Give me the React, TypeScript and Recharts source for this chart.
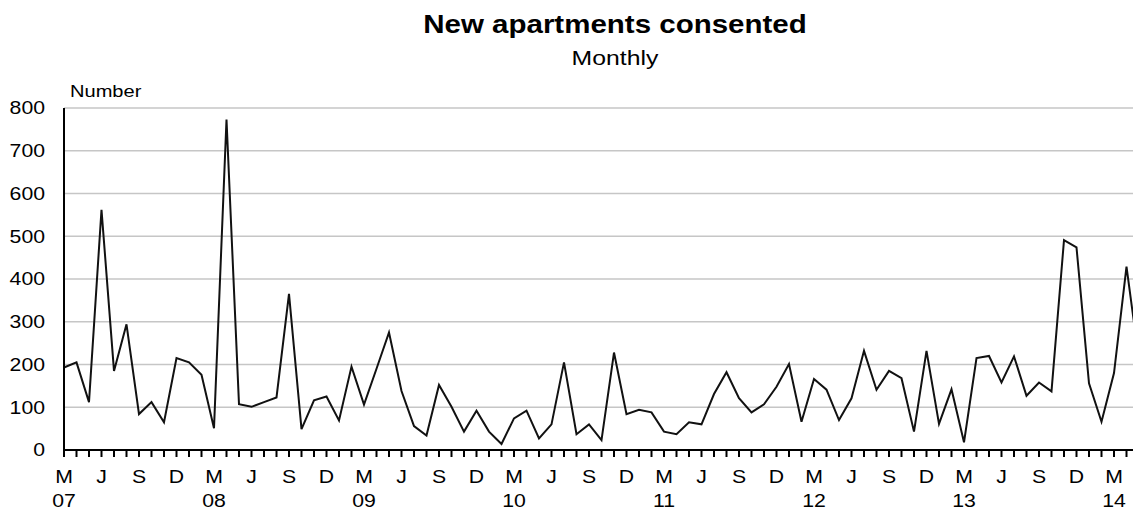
import React from 'react';
import { LineChart, Line, XAxis, YAxis, CartesianGrid } from 'recharts';

// monthly series, starting March 2007
const monthlyValues = [
  193, 205, 112, 562, 185, 294, 84, 112, 65, 215, 205, 176,
  51, 773, 107, 101, 112, 123, 365, 49, 116, 125, 69, 195,
  106, 190, 275, 138, 56, 34, 152, 101, 43, 92, 43, 14,
  74, 92, 27, 60, 205, 37, 60, 23, 228, 84, 94, 88,
  43, 37, 65, 60, 131, 182, 121, 88, 107, 148, 201, 66,
  166, 141, 70, 121, 232, 141, 185, 168, 43, 232, 61, 142,
  18, 215, 220, 158, 219, 127, 158, 137, 491, 474, 156, 66,
  180, 429, 210,
];

const quarterLabels = ['M', 'J', 'S', 'D'];
const yearLabels = ['07', '08', '09', '10', '11', '12', '13', '14'];
const yTicks = [0, 100, 200, 300, 400, 500, 600, 700, 800];

const data = monthlyValues.map((value, idx) => ({ idx, value }));
const xTicks = data.map(d => d.idx);

const FONT = '"Liberation Sans", Arial, sans-serif';
const STRETCH = 1.18;

const YTick = (props: any) => {
  const { x, y, payload } = props;
  return (
    <text
      transform={`translate(${x},${y}) scale(${STRETCH},1)`}
      textAnchor="end"
      dy="0.36em"
      fontSize={18}
      fontFamily={FONT}
      fill="#000"
    >
      {payload.value}
    </text>
  );
};

const XTick = (props: any) => {
  const { x, payload } = props;
  const i = payload.value;
  if (i % 3 !== 0) return null;
  const letter = quarterLabels[(i / 3) % 4];
  const year = i % 12 === 0 ? yearLabels[i / 12] : null;
  return (
    <g>
      <text
        transform={`translate(${x},483) scale(${STRETCH},1)`}
        textAnchor="middle"
        fontSize={18}
        fontFamily={FONT}
        fill="#000"
      >
        {letter}
      </text>
      {year && (
        <text
          transform={`translate(${x},507) scale(${STRETCH},1)`}
          textAnchor="middle"
          fontSize={18}
          fontFamily={FONT}
          fill="#000"
        >
          {year}
        </text>
      )}
    </g>
  );
};

export default function App() {
  return (
    <div
      style={{
        position: 'fixed',
        left: 0,
        top: 0,
        width: 1133,
        height: 510,
        overflow: 'hidden',
        background: '#fff',
        fontFamily: FONT,
      }}
    >
      <div
        style={{
          position: 'absolute',
          left: 615,
          top: 12,
          fontSize: 25,
          lineHeight: '25px',
          fontWeight: 700,
          whiteSpace: 'nowrap',
          transform: `translateX(-50%) scaleX(${STRETCH})`,
        }}
      >
        New apartments consented
      </div>
      <div
        style={{
          position: 'absolute',
          left: 615,
          top: 47,
          fontSize: 21,
          lineHeight: '21px',
          whiteSpace: 'nowrap',
          transform: `translateX(-50%) scaleX(${STRETCH})`,
        }}
      >
        Monthly
      </div>
      <div
        style={{
          position: 'absolute',
          left: 70,
          top: 83,
          fontSize: 17,
          lineHeight: '17px',
          whiteSpace: 'nowrap',
          transformOrigin: 'left',
          transform: `scaleX(${STRETCH})`,
        }}
      >
        Number
      </div>
      <div style={{ position: 'absolute', left: 0, top: 0 }}>
        <LineChart
          width={1150}
          height={510}
          data={data}
          margin={{ top: 108, right: 11, bottom: 0, left: 0 }}
        >
          <CartesianGrid vertical={false} stroke="#c6c6c6" strokeWidth={1.3} />
          <XAxis
            dataKey="idx"
            type="number"
            domain={[0, 86]}
            ticks={xTicks}
            interval={0}
            height={60}
            tickSize={7}
            tickLine={{ stroke: '#000', strokeWidth: 2 }}
            axisLine={{ stroke: '#000', strokeWidth: 2 }}
            tick={<XTick />}
          />
          <YAxis
            domain={[0, 800]}
            ticks={yTicks}
            width={64}
            tickSize={0}
            tickMargin={19}
            tickLine={false}
            axisLine={{ stroke: '#000', strokeWidth: 2 }}
            tick={<YTick />}
          />
          <Line
            type="linear"
            dataKey="value"
            stroke="#111"
            strokeWidth={2}
            dot={false}
            isAnimationActive={false}
          />
        </LineChart>
      </div>
    </div>
  );
}
